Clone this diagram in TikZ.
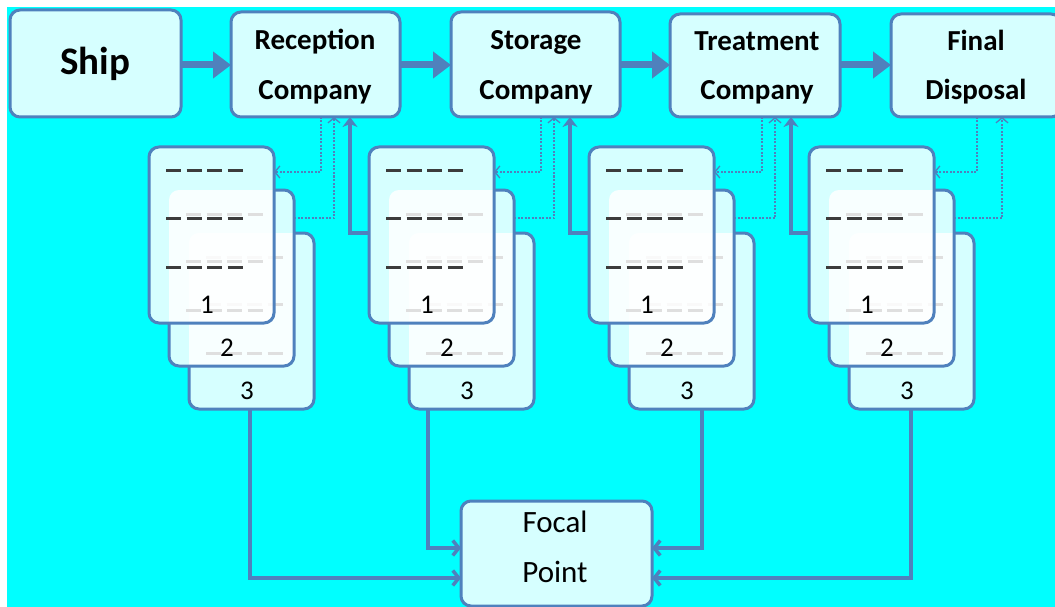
\documentclass[tikz,border=0pt]{standalone}
\usepackage{fontspec}
\setmainfont{Carlito}
\usetikzlibrary{arrows.meta}
\definecolor{bl}{RGB}{79,129,189}
\definecolor{dk}{RGB}{60,60,60}
\definecolor{cy}{RGB}{0,255,255}
\begin{document}
\begin{tikzpicture}[x=1pt,y=-1pt,
  box/.style={draw=bl, line width=3pt, rounded corners=10pt, fill=cy!16, outer sep=0pt, inner sep=0pt, anchor=north west},
  cardfill/.style={fill=white, fill opacity=0.84, draw=none, rounded corners=10pt, minimum width=125pt, minimum height=176pt, inner sep=0pt, outer sep=0pt, anchor=north west},
  cardborder/.style={draw=bl, line width=3pt, rounded corners=10pt},
  dashrow/.style={draw=dk, line width=3pt, dash pattern=on 15pt off 5.5pt},
  lbl/.style={font=\fontsize{29}{29}\selectfont\bfseries, anchor=base, inner sep=0pt},
  lblr/.style={font=\fontsize{31}{31}\selectfont, anchor=base, inner sep=0pt},
  num/.style={font=\fontsize{27}{27}\selectfont, anchor=base, inner sep=0pt},
  thick arrow/.style={draw=bl, line width=7pt, -{Triangle[length=18pt,width=26pt]}},
  dotl/.style={draw=bl, line width=1.3pt, dash pattern=on 2pt off 1.5pt, -{Straight Barb[length=5pt,width=12pt]}},
  solidarr/.style={draw=bl, line width=3.5pt, -{Stealth[length=10pt,width=15pt,inset=3pt]}},
  botarr/.style={draw=bl, line width=3.5pt, -{Straight Barb[length=6pt,width=15pt]}}
]
\useasboundingbox (0,0) rectangle (1055,607);
\fill[white] (0,0) rectangle (1055,607);
\fill[cy] (7,7) rectangle (1055,607);

% top boxes
\node[box, minimum width=171pt, minimum height=107pt] (ship) at (10,10) {};
\node[box, minimum width=169pt, minimum height=105pt] (rec) at (231,12) {};
\node[box, minimum width=169pt, minimum height=105pt] (sto) at (451,12) {};
\node[box, minimum width=170pt, minimum height=103pt] (tre) at (670,14) {};
\node[box, minimum width=170pt, minimum height=103pt] (fin) at (891,14) {};
\node[box, minimum width=191pt, minimum height=105pt] (foc) at (461,501) {};

\node[lbl, font=\fontsize{39}{39}\selectfont\bfseries] (shipT) at (95,75) {Ship};
\node[lbl] (recT1) at (315,50) {Reception};
\node[lbl] (recT2) at (315,100) {Company};
\node[lbl] (stoT1) at (536,50) {Storage};
\node[lbl] (stoT2) at (536,100) {Company};
\node[lbl] (treT1) at (757,51) {Treatment};
\node[lbl] (treT2) at (757,100) {Company};
\node[lbl] (finT1) at (976,51) {Final};
\node[lbl] (finT2) at (976,100) {Disposal};
\node[lblr] (focT1) at (555,532) {Focal};
\node[lblr] (focT2) at (555,582) {Point};

% top arrows
\draw[thick arrow] (ship.east |- 0,65) -- (rec.west |- 0,65);
\draw[thick arrow] (rec.east |- 0,65) -- (sto.west |- 0,65);
\draw[thick arrow] (sto.east |- 0,65) -- (tre.west |- 0,65);
\draw[thick arrow] (tre.east |- 0,65) -- (fin.west |- 0,65);

% document stacks
\foreach \i in {1,2,3,4}{
  \pgfmathsetmacro{\cx}{149+220*(\i-1)}
  \node[cardfill] (c\i3) at (\cx+40,233) {};
  \foreach \r in {24,71,120}{\draw[dashrow] ([shift={(17,\r)}]c\i3.north west) -- ++(79,0);}
  \node[cardfill] (c\i2) at (\cx+20,190) {};
  \foreach \r in {24,71,120}{\draw[dashrow] ([shift={(17,\r)}]c\i2.north west) -- ++(79,0);}
  \node[cardfill] (c\i1) at (\cx,147) {};
  \foreach \r in {24,71,120}{\draw[dashrow] ([shift={(17,\r)}]c\i1.north west) -- ++(79,0);}
  \begin{scope}[rounded corners=10pt]
    \clip (-20,-20) -- (1100,-20) -- (1100,700) -- (-20,700) -- cycle
      (c\i1.north west) -- (c\i1.south west) -- (c\i1.south east) -- (c\i1.north east) -- cycle;
    \draw[cardborder] (c\i2.north west) rectangle (c\i2.south east);
    \clip (-20,-20) -- (1100,-20) -- (1100,700) -- (-20,700) -- cycle
      (c\i2.north west) -- (c\i2.south west) -- (c\i2.south east) -- (c\i2.north east) -- cycle;
    \draw[cardborder] (c\i3.north west) rectangle (c\i3.south east);
  \end{scope}
  \draw[cardborder] (c\i1.north west) rectangle (c\i1.south east);
  \node[num] (n\i1) at ([shift={(58,166)}]c\i1.north west) {1};
  \node[num] (n\i2) at ([shift={(58,166)}]c\i2.north west) {2};
  \node[num] (n\i3) at ([shift={(58,166)}]c\i3.north west) {3};
}

% dotted connectors between boxes and stacks
\coordinate (d1) at (321,172); \coordinate (u1) at (334,218);
\coordinate (d2) at (541,172); \coordinate (u2) at (554,218);
\coordinate (d3) at (762,172); \coordinate (u3) at (775,218);
\coordinate (d4) at (977,172); \coordinate (u4) at (1002,218);
\draw[dotl] (rec.south -| d1) -- (d1) -- (c11.east |- d1);
\draw[dotl] (c12.east |- u1) -- (u1) -- (rec.south -| u1);
\draw[dotl] (sto.south -| d2) -- (d2) -- (c21.east |- d2);
\draw[dotl] (c22.east |- u2) -- (u2) -- (sto.south -| u2);
\draw[dotl] (tre.south -| d3) -- (d3) -- (c31.east |- d3);
\draw[dotl] (c32.east |- u3) -- (u3) -- (tre.south -| u3);
\draw[dotl] (fin.south -| d4) -- (d4) -- (c41.east |- d4);
\draw[dotl] (c42.east |- u4) -- (u4) -- (fin.south -| u4);

% solid arrows from stacks up to previous box
\coordinate (s1) at (350,233);
\coordinate (s2) at (570,233);
\coordinate (s3) at (791,233);
\draw[solidarr] (c21.west |- s1) -- (s1) -- (rec.south -| s1);
\draw[solidarr] (c31.west |- s2) -- (s2) -- (sto.south -| s2);
\draw[solidarr] (c41.west |- s3) -- (s3) -- (tre.south -| s3);

% bottom connectors to focal point
\coordinate (b1) at (250,578);
\coordinate (b2) at (428,548);
\coordinate (b3) at (702,548);
\coordinate (b4) at (911,578);
\draw[botarr] (c13.south -| b1) -- (b1) -- (foc.west |- b1);
\draw[botarr] (c23.south -| b2) -- (b2) -- (foc.west |- b2);
\draw[botarr] (c33.south -| b3) -- (b3) -- (foc.east |- b3);
\draw[botarr] (c43.south -| b4) -- (b4) -- (foc.east |- b4);
\end{tikzpicture}
\end{document}
